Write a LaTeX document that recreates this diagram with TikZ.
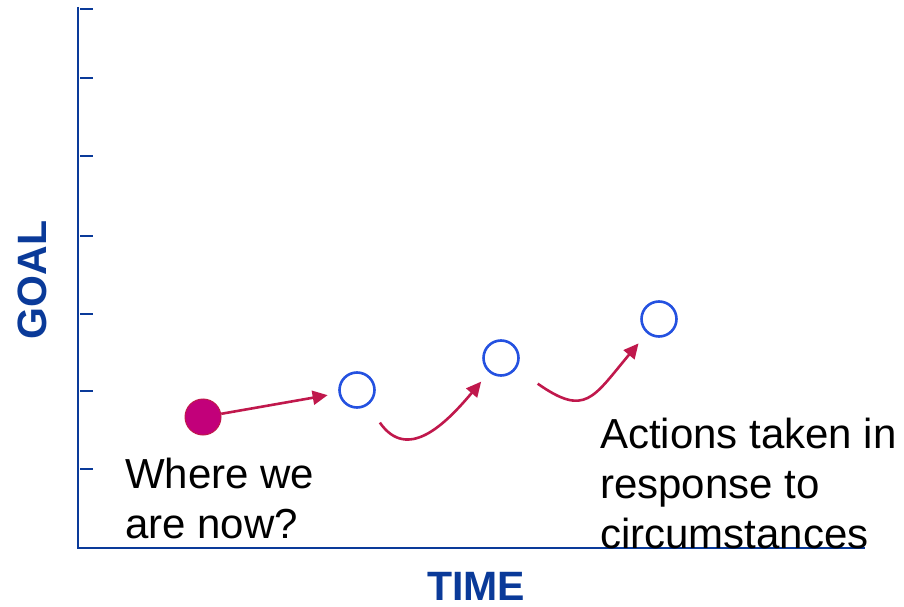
\documentclass[tikz,border=0pt]{standalone}
\usepackage{fontspec}
\setmainfont{Liberation Sans}
\usetikzlibrary{arrows.meta}
\definecolor{axisblue}{HTML}{0A3A99}
\definecolor{dotred}{HTML}{C2007A}
\definecolor{arrowred}{HTML}{C0184C}
\definecolor{ringblue}{HTML}{2451E0}
\tikzset{
  stage/.style={circle, draw=ringblue, line width=2.6pt, minimum size=35pt, inner sep=0pt},
  arr/.style={draw=arrowred, line width=2.6pt, -{Triangle[length=15pt,width=14pt]}},
  bigtext/.style={font=\fontsize{42}{50}\selectfont, align=left, inner sep=0pt},
  axislabel/.style={font=\fontsize{41}{49}\selectfont\bfseries, text=axisblue, inner sep=0pt}
}

\begin{document}
\begin{tikzpicture}[x=1pt,y=1pt]
  \useasboundingbox (0,0) rectangle (904,606);
  % axes
  \draw[axisblue, line width=2pt] (78,599) -- (78,58) -- (865,58);
  \foreach \ty in {137,215,292,370,450,528,597}
    \draw[axisblue, line width=2pt] (80,\ty) -- (93,\ty);
  \node[axislabel, rotate=90] (goal) at (32,326) {GOAL};
  \node[axislabel, anchor=base] (time) at (476,5.5) {TIME};

  % where we are and the next stages
  \node[circle, fill=dotred, draw=arrowred, line width=1pt, minimum size=36pt, inner sep=0pt] (now) at (203,189) {};
  \node[stage] (step1) at (357,216) {};
  \node[stage] (step2) at (501,248) {};
  \node[stage] (step3) at (659,287) {};

  \draw[arr, shorten >=11pt] (now) -- (step1);
  \draw[arr, shorten <=21pt, shorten >=12pt] (step1) to[out=-55, in=-130, looseness=1.4] (step2);
  \draw[arr, shorten <=26pt, shorten >=13pt] (step2) to[out=-35, in=-130, looseness=1.6] (step3);

  % the texts (base anchor sits on the last line)
  \node[bigtext, anchor=base west] (where) at (125,68) {Where we\\are now?};
  \node[bigtext, anchor=base west] (actions) at (600,58) {Actions taken in\\response to\\circumstances};
\end{tikzpicture}
\end{document}
